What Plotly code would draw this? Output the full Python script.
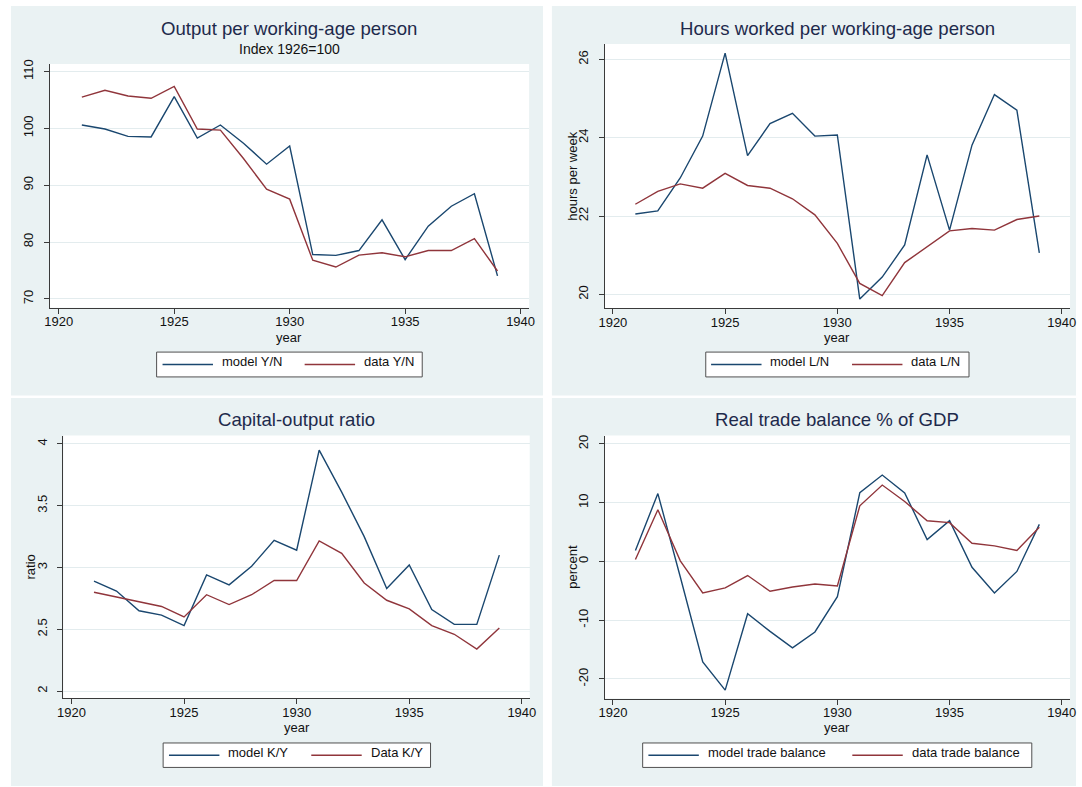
import plotly.graph_objects as go

# ---------------- data ----------------
years = list(range(1921, 1940))

model_yn = [100.6, 99.9, 98.6, 98.5, 105.6, 98.3, 100.6, 97.4, 93.7, 96.9,
            77.8, 77.65, 78.5, 83.9, 76.9, 82.8, 86.3, 88.5, 74.05]
data_yn = [105.5, 106.7, 105.7, 105.3, 107.4, 99.9, 99.7, 94.7, 89.3, 87.55,
           76.8, 75.6, 77.7, 78.1, 77.4, 78.5, 78.5, 80.6, 74.9]

model_ln = [22.05, 22.13, 22.97, 24.04, 26.16, 23.54, 24.36, 24.62, 24.04, 24.07,
            19.88, 20.44, 21.26, 23.56, 21.64, 23.81, 25.1, 24.7, 21.06]
data_ln = [22.3, 22.63, 22.82, 22.71, 23.09, 22.78, 22.71, 22.44, 22.03, 21.3,
           20.28, 19.97, 20.81, 21.21, 21.62, 21.68, 21.64, 21.91, 22.0]

model_ky = [2.89, 2.81, 2.65, 2.615, 2.53, 2.94, 2.86, 3.01, 3.22, 3.14,
            3.95, 3.61, 3.25, 2.83, 3.02, 2.66, 2.54, 2.54, 3.10]
data_ky = [2.80, 2.76, 2.72, 2.685, 2.60, 2.78, 2.70, 2.78, 2.895, 2.895,
           3.215, 3.115, 2.875, 2.735, 2.665, 2.53, 2.46, 2.34, 2.51]

model_tb = [1.86, 11.55, -2.65, -17.1, -21.9, -8.9, -11.9, -14.7, -12.0, -6.0,
            11.7, 14.7, 11.66, 3.72, 6.93, -1.0, -5.35, -1.7, 6.3]
data_tb = [0.34, 8.8, 0.1, -5.35, -4.5, -2.4, -5.07, -4.34, -3.83, -4.17,
           9.46, 13.0, 10.2, 6.93, 6.6, 3.1, 2.65, 1.86, 5.8]

x_ticks = [1920, 1925, 1930, 1935, 1940]
y1_ticks = [70, 80, 90, 100, 110]
y2_ticks = [20, 22, 24, 26]
y3_ticks = [2, 2.5, 3, 3.5, 4]
y3_text = ["2", "2.5", "3", "3.5", "4"]
y4_ticks = [-20, -10, 0, 10, 20]
y4_text = ["-20", "-10", "0", "10", "20"]

titles = ["Output per working-age person", "Hours worked per working-age person",
          "Capital-output ratio", "Real trade balance % of GDP"]
subtitle1 = "Index 1926=100"
x_title = "year"
y_titles = ["", "hours per week", "ratio", "percent"]
legend_names = [("model Y/N", "data Y/N"), ("model L/N", "data L/N"),
                ("model K/Y", "Data K/Y"), ("model trade balance", "data trade balance")]

# ---------------- style ----------------
W, H = 1082, 787
BLUE = "#1A476F"
RED = "#90353B"
PANEL = "#EAF2F3"
GRID = "#E3ECEE"
AXIS = "#3a3a3a"
TITLE_C = "#1E2A4C"
TXT = "#111111"
FONT = "Liberation Sans, Arial, sans-serif"
DY = -3  # annotation baseline correction (pixels)


def px_x(p):
    return p / W


def px_y(p):
    return 1 - p / H


# plot rectangles in pixels: (left, right, top, bottom)
plots = [(44, 529, 59.3, 304.7),
         (605.3, 1076, 39.3, 305),
         (58, 529.6, 433.3, 697.5),
         (605.4, 1076, 433.3, 698)]
# panel backgrounds in pixels
panels = [(5, 543, 1, 393), (552, 1082, 1, 393),
          (5, 543, 395.5, 786), (552, 1082, 395.5, 786)]

x_ranges = [[1919.60, 1940.37], [1919.63, 1940.37], [1919.64, 1940.35], [1919.63, 1940.37]]
y_ranges = [[68.43, 111.35], [19.65, 26.39], [1.944, 4.0675], [-23.33, 21.42]]
y_ticks = [(y1_ticks, [str(v) for v in y1_ticks]), (y2_ticks, [str(v) for v in y2_ticks]),
           (y3_ticks, y3_text), (y4_ticks, y4_text)]
series = [(model_yn, data_yn), (model_ln, data_ln), (model_ky, data_ky), (model_tb, data_tb)]
title_y = [26.7, 26.3, 420, 420]
year_y = [337.5, 337.5, 730.5, 730.5]
ytitle_x = [None, 575, 28, 575]

fig = go.Figure()
shapes = []
annotations = []


def ann(text, x, y, size, color=TXT, xanchor="center", angle=0):
    if angle:
        # the baseline correction turns into a horizontal one when rotated
        xx, yy = x + DY, y
    else:
        xx, yy = x, y + DY
    annotations.append(dict(text=text, xref="paper", yref="paper",
                            x=px_x(xx), y=px_y(yy), xanchor=xanchor, yanchor="middle",
                            showarrow=False, textangle=angle,
                            font=dict(family=FONT, size=size, color=color)))


# panel backgrounds
for (l, r, t, b) in panels:
    shapes.append(dict(type="rect", xref="paper", yref="paper",
                       x0=px_x(l), x1=px_x(r), y0=px_y(b), y1=px_y(t),
                       fillcolor=PANEL, line=dict(width=0), layer="below"))

for i in range(4):
    n = "" if i == 0 else str(i + 1)
    l, r, t, b = plots[i]
    xa = "x" + n
    ya = "y" + n
    shapes.append(dict(type="rect", xref=xa + " domain", yref=ya + " domain",
                       x0=0, x1=1, y0=0, y1=1, fillcolor="white",
                       line=dict(width=0), layer="below"))
    m, d = series[i]
    fig.add_trace(go.Scatter(x=years, y=m, mode="lines", name=legend_names[i][0],
                             line=dict(color=BLUE, width=1.4), xaxis=xa, yaxis=ya,
                             showlegend=False))
    fig.add_trace(go.Scatter(x=years, y=d, mode="lines", name=legend_names[i][1],
                             line=dict(color=RED, width=1.4), xaxis=xa, yaxis=ya,
                             showlegend=False))
    fig.layout["xaxis" + n] = dict(
        domain=[px_x(l), px_x(r)], anchor=ya, range=x_ranges[i],
        tickvals=x_ticks, ticks="outside", ticklen=5, tickcolor=AXIS, tickwidth=1,
        showline=True, linecolor=AXIS, linewidth=1, showgrid=False, zeroline=False,
        ticklabelstandoff=-3,
        tickfont=dict(family=FONT, size=13, color=TXT), fixedrange=True)
    tv, tt = y_ticks[i]
    fig.layout["yaxis" + n] = dict(
        domain=[px_y(b), px_y(t)], anchor=xa, range=y_ranges[i],
        tickvals=tv, ticktext=tt, tickangle=-90, ticks="outside", ticklen=5,
        tickcolor=AXIS, tickwidth=1, showline=True, linecolor=AXIS, linewidth=1,
        showgrid=True, gridcolor=GRID, gridwidth=1, zeroline=False,
        ticklabelstandoff=5,
        tickfont=dict(family=FONT, size=13, color=TXT), fixedrange=True)
    ann(titles[i], (l + r) / 2, title_y[i], 18.6, TITLE_C)
    ann(x_title, (l + r) / 2, year_y[i], 13)
    if ytitle_x[i] is not None:
        ann(y_titles[i], ytitle_x[i], (t + b) / 2, 13, angle=-90)

ann(subtitle1, (44 + 529) / 2, 47.7, 14)

# legends: (box left, box right, box top, box bottom, line1 x0, line2 x0)
legends = [(152.3, 420.9, 349.3, 374.3, 158.3, 302),
           (707.6, 973.8, 349.3, 374.3, 713, 855.5),
           (158.9, 429.3, 742.7, 767.3, 164.8, 308.7),
           (643.8, 1037.3, 742.7, 767.3, 649.6, 855.8)]
for i, (bl, br, bt, bb, l1, l2) in enumerate(legends):
    shapes.append(dict(type="rect", xref="paper", yref="paper",
                       x0=px_x(bl), x1=px_x(br), y0=px_y(bb), y1=px_y(bt),
                       fillcolor="white", line=dict(color="#505050", width=1)))
    cy = (bt + bb) / 2
    for x0, col, name in [(l1, BLUE, legend_names[i][0]), (l2, RED, legend_names[i][1])]:
        shapes.append(dict(type="line", xref="paper", yref="paper",
                           x0=px_x(x0), x1=px_x(x0 + 51), y0=px_y(cy), y1=px_y(cy),
                           line=dict(color=col, width=1.4)))
        ann(name, x0 + 58, cy, 13, xanchor="left")

fig.update_layout(width=W, height=H, margin=dict(l=0, r=0, t=0, b=0),
                  paper_bgcolor="white", plot_bgcolor="white",
                  shapes=shapes, annotations=annotations, showlegend=False)

fig.write_html("out.html", config={"displayModeBar": False},
               post_script="document.body.style.margin='0';"
                           "document.body.style.overflow='hidden';"
                           "document.documentElement.style.overflow='hidden';")
